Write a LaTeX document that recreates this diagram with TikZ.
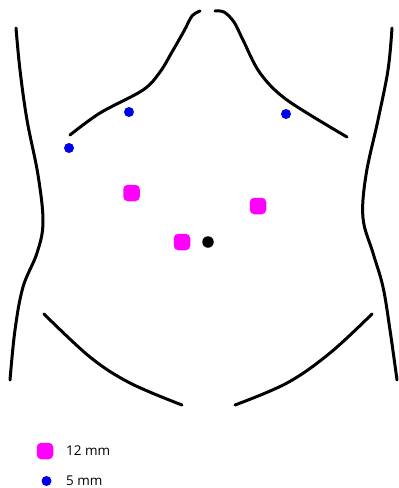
\documentclass[tikz,border=0pt]{standalone}
\usepackage{fontspec}
\setmainfont{Open Sans}
\begin{document}
\begin{tikzpicture}[x=1pt,y=-1pt,
  outline/.style={line width=3pt,line cap=round,black},
  port12/.style={rectangle,rounded corners=4.5pt,fill={rgb,255:red,255;green,0;blue,255},minimum size=16.5pt,inner sep=0pt},
  port5/.style={circle,fill={rgb,255:red,0;green,0;blue,235},minimum size=10pt,inner sep=0pt},
  navel/.style={circle,fill=black,minimum size=11.5pt,inner sep=0pt},
  legendtext/.style={anchor=west,inner sep=0pt,font=\fontsize{13.5}{16}\selectfont}]
\useasboundingbox (0,0) rectangle (399,488);

% flanks
\draw[outline] plot[smooth,tension=0.6] coordinates
  {(16,28) (20,70) (27,120) (38,175) (43,222) (37,253) (23,287) (15,330) (10,380)};
\draw[outline] plot[smooth,tension=0.6] coordinates
  {(392,28) (388,70) (378,120) (366,175) (363,218) (373,253) (383,287) (390,330) (397,380)};

% costal margins
\draw[outline] plot[smooth,tension=0.55] coordinates
  {(70,135) (100,113) (143,90) (160,72) (172,52) (184,31) (192,16) (200,11)};
\draw[outline] plot[smooth,tension=0.55] coordinates
  {(347,137) (287,100) (260,73) (243,40) (234,22) (224,12) (215,11)};

% inguinal lines
\draw[outline] plot[smooth,tension=0.6] coordinates
  {(44,314) (90,357) (130,383) (182,405)};
\draw[outline] plot[smooth,tension=0.6] coordinates
  {(372,314) (330,353) (287,383) (235,405)};

% ports
\node[port12] (p1) at (131.5,193) {};
\node[port12] (p2) at (258,206) {};
\node[port12] (p3) at (182,242) {};
\node[navel]  (u)  at (208,242) {};
\node[port5]  (b1) at (129,112) {};
\node[port5]  (b2) at (69,148) {};
\node[port5]  (b3) at (286,114) {};

% legend
\node[port12] (k1) at (45,451) {};
\node[port5]  (k2) at (46.5,481) {};
\node[legendtext] (t1) at (66,451) {12 mm};
\node[legendtext] (t2) at (66,481) {5 mm};
\end{tikzpicture}
\end{document}
